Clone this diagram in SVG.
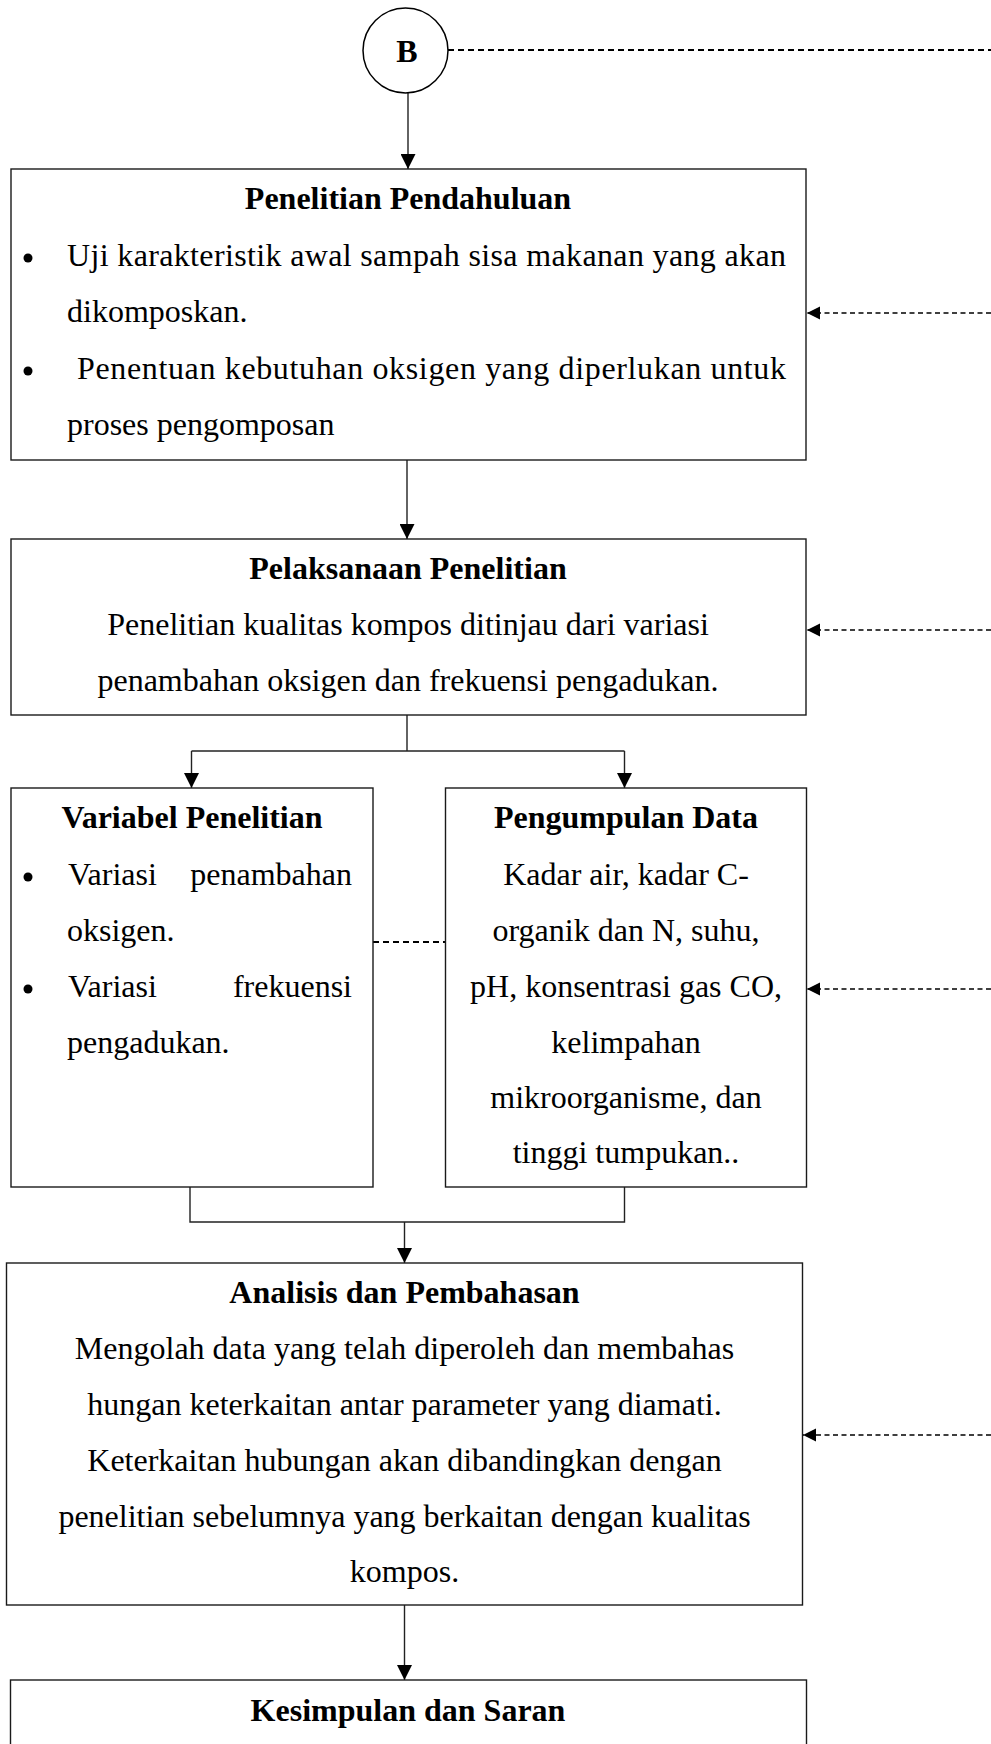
<svg xmlns="http://www.w3.org/2000/svg" width="991" height="1744" viewBox="0 0 991 1744">
<defs>
<style>
.box{fill:#fff;stroke:#1a1a1a;stroke-width:1.4}
.t{font-family:"Liberation Serif","Times New Roman",serif;font-size:32px;fill:#000}
.b{font-weight:bold}
.c{text-anchor:middle}
.e{text-anchor:end}
.ln{fill:none;stroke:#222;stroke-width:1.4}
.dl{fill:none;stroke:#000;stroke-width:1.4;stroke-dasharray:5 3.5}
.dd{fill:none;stroke:#000;stroke-width:1.8;stroke-dasharray:6 4}
</style>
<marker id="arr" viewBox="0 0 10 10" refX="10" refY="5" markerWidth="15" markerHeight="15" markerUnits="userSpaceOnUse" orient="auto"><path d="M0,0 L10,5 L0,10 z" fill="#000"/></marker>
<marker id="arrs" viewBox="0 0 10 10" refX="10" refY="5" markerWidth="13" markerHeight="14" markerUnits="userSpaceOnUse" orient="auto"><path d="M0,0 L10,5 L0,10 z" fill="#000"/></marker>
</defs>
<rect width="991" height="1744" fill="#fff"/>

<g id="connectors">
<path class="dd" d="M448,50 H991"/>
<path class="ln" d="M408,93 V169" marker-end="url(#arr)"/>
<path class="ln" d="M407,460 V539" marker-end="url(#arr)"/>
<path class="ln" d="M407,715 V751"/>
<path class="ln" d="M191.5,751 H624.5"/>
<path class="ln" d="M191.5,751 V788" marker-end="url(#arr)"/>
<path class="ln" d="M624.5,751 V788" marker-end="url(#arr)"/>
<path class="dd" d="M373,942 H445"/>
<path class="ln" d="M190,1187 V1222 H624.5 V1187"/>
<path class="ln" d="M404.5,1222 V1263" marker-end="url(#arr)"/>
<path class="ln" d="M404.5,1605 V1680" marker-end="url(#arr)"/>
<path class="dl" d="M991,313 H807" marker-end="url(#arrs)"/>
<path class="dl" d="M991,630 H807" marker-end="url(#arrs)"/>
<path class="dl" d="M991,989 H807" marker-end="url(#arrs)"/>
<path class="dl" d="M991,1435 H803" marker-end="url(#arrs)"/>
</g>

<g id="nodeB">
<circle cx="405.5" cy="50.5" r="42.5" fill="#fff" stroke="#000" stroke-width="1.5"/>
<text class="t b c" x="407" y="62">B</text>
</g>

<g id="penelitian-pendahuluan">
<rect class="box" x="11" y="169" width="795" height="291"/>
<text class="t b c" x="408" y="209">Penelitian Pendahuluan</text>
<circle cx="28" cy="258" r="4.5" fill="#000"/>
<text class="t" x="67" y="266" textLength="719" lengthAdjust="spacing">Uji karakteristik awal sampah sisa makanan yang akan</text>
<text class="t" x="67" y="322">dikomposkan.</text>
<circle cx="28" cy="371" r="4.5" fill="#000"/>
<text class="t" x="77" y="379" textLength="709" lengthAdjust="spacing">Penentuan kebutuhan oksigen yang diperlukan untuk</text>
<text class="t" x="67" y="435">proses pengomposan</text>
</g>

<g id="pelaksanaan-penelitian">
<rect class="box" x="11" y="539" width="795" height="176"/>
<text class="t b c" x="408" y="579">Pelaksanaan Penelitian</text>
<text class="t c" x="408" y="635">Penelitian kualitas kompos ditinjau dari variasi</text>
<text class="t c" x="408" y="691">penambahan oksigen dan frekuensi pengadukan.</text>
</g>

<g id="variabel-penelitian">
<rect class="box" x="11" y="788" width="362" height="399"/>
<text class="t b c" x="192" y="828">Variabel Penelitian</text>
<circle cx="28" cy="877" r="4.5" fill="#000"/>
<text class="t" x="68" y="885">Variasi</text>
<text class="t e" x="352" y="885">penambahan</text>
<text class="t" x="67" y="941">oksigen.</text>
<circle cx="28" cy="989" r="4.5" fill="#000"/>
<text class="t" x="68" y="997">Variasi</text>
<text class="t e" x="352" y="997">frekuensi</text>
<text class="t" x="67" y="1053">pengadukan.</text>
</g>

<g id="pengumpulan-data">
<rect class="box" x="445.5" y="788" width="361" height="399"/>
<text class="t b c" x="626" y="828">Pengumpulan Data</text>
<text class="t c" x="626" y="885">Kadar air, kadar C-</text>
<text class="t c" x="626" y="941">organik dan N, suhu,</text>
<text class="t c" x="626" y="997">pH, konsentrasi gas CO,</text>
<text class="t c" x="626" y="1053">kelimpahan</text>
<text class="t c" x="626" y="1108">mikroorganisme, dan</text>
<text class="t c" x="626" y="1163">tinggi tumpukan..</text>
</g>

<g id="analisis-pembahasan">
<rect class="box" x="6.5" y="1263" width="796" height="342"/>
<text class="t b c" x="404.5" y="1303">Analisis dan Pembahasan</text>
<text class="t c" x="404.5" y="1359">Mengolah data yang telah diperoleh dan membahas</text>
<text class="t c" x="404.5" y="1415">hungan keterkaitan antar parameter yang diamati.</text>
<text class="t c" x="404.5" y="1471">Keterkaitan hubungan akan dibandingkan dengan</text>
<text class="t c" x="404.5" y="1527">penelitian sebelumnya yang berkaitan dengan kualitas</text>
<text class="t c" x="404.5" y="1582">kompos.</text>
</g>

<g id="kesimpulan-saran">
<rect class="box" x="10.5" y="1680" width="796" height="90"/>
<text class="t b c" x="408" y="1721">Kesimpulan dan Saran</text>
</g>
</svg>
